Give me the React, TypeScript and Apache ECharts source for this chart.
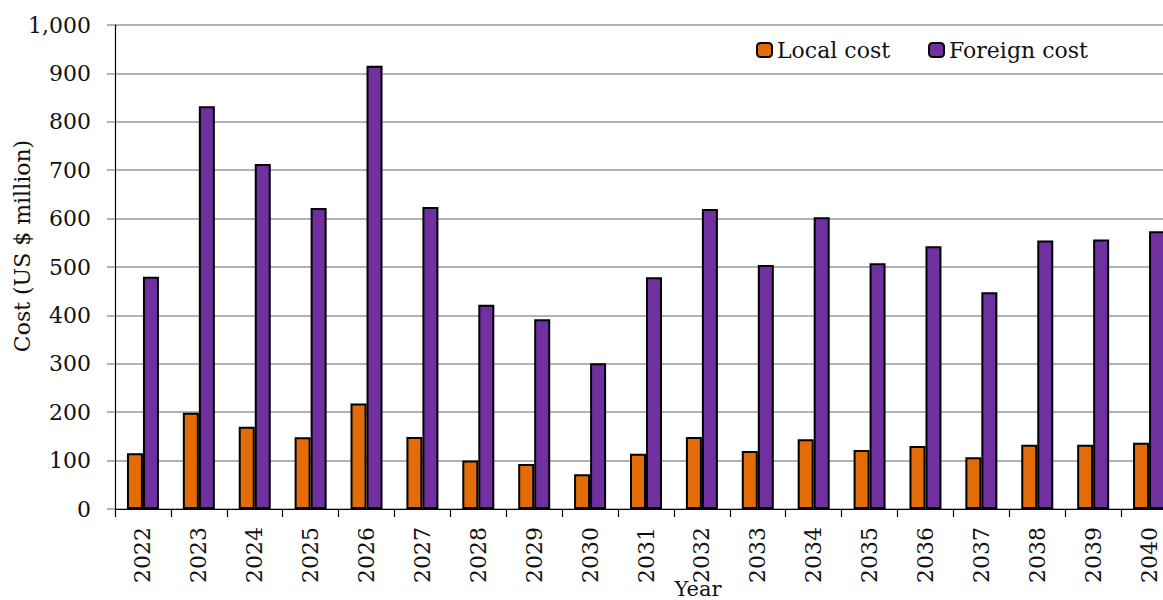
import React, { useEffect, useRef } from "react";
import * as echarts from "echarts";

const years = ["2022","2023","2024","2025","2026","2027","2028","2029","2030","2031","2032","2033","2034","2035","2036","2037","2038","2039","2040"];
const localCost = [115, 199, 170, 148, 218, 149, 100, 93, 72, 114, 149, 120, 144, 122, 130, 107, 133, 133, 137];
const foreignCost = [480, 832, 713, 622, 916, 624, 422, 392, 301, 479, 620, 504, 603, 508, 543, 448, 555, 557, 574];
const yTicks = { min: 0, max: 1000, interval: 100 };

const FONT = "'DejaVu Serif', serif";

export default function App() {
  const ref = useRef<HTMLDivElement>(null);
  useEffect(() => {
    if (!ref.current) return;
    const chart = echarts.init(ref.current, null, { renderer: "svg" });
    chart.setOption({
      animation: false,
      backgroundColor: "#ffffff",
      grid: { left: 115, top: 25, bottom: 91, right: 3 },
      legend: {
        left: 756,
        top: 39,
        padding: 0,
        itemWidth: 15,
        itemHeight: 14,
        itemGap: 38,
        selectedMode: false,
        textStyle: { fontFamily: FONT, fontSize: 22, color: "#111" },
        data: ["Local cost", "Foreign cost"],
      },
      xAxis: {
        type: "category",
        data: years,
        boundaryGap: true,
        axisLine: { lineStyle: { color: "#000", width: 1.2 } },
        axisTick: { show: true, length: 8, lineStyle: { color: "#000", width: 1.2 } },
        axisLabel: { rotate: 90, margin: 18, fontFamily: FONT, fontSize: 22, color: "#111" },
      },
      yAxis: {
        type: "value",
        min: yTicks.min,
        max: yTicks.max,
        interval: yTicks.interval,
        axisLine: { show: true, lineStyle: { color: "#000", width: 1.2 } },
        axisTick: { show: true, length: 8, lineStyle: { color: "#999", width: 1.5 } },
        splitLine: { show: true, lineStyle: { color: "#999", width: 1.5 } },
        axisLabel: {
          margin: 24,
          fontFamily: FONT,
          fontSize: 22,
          color: "#111",
          formatter: (v: number) => v.toLocaleString("en-US"),
        },
      },
      graphic: [
        {
          type: "text",
          x: 22,
          y: 246,
          rotation: Math.PI / 2,
          style: {
            text: "Cost (US $ million)",
            fontFamily: FONT,
            fontSize: 22,
            fill: "#111",
            align: "center",
            verticalAlign: "middle",
          },
        },
        {
          type: "text",
          x: 698,
          y: 599,
          style: {
            text: "Year",
            fontFamily: FONT,
            fontSize: 21,
            fill: "#111",
            align: "center",
            verticalAlign: "bottom",
          },
        },
      ],
      series: [
        {
          name: "Local cost",
          type: "bar",
          data: localCost,
          barWidth: 16,
          barGap: "0%",
          itemStyle: { color: "#E36C09", borderColor: "#000", borderWidth: 2 },
        },
        {
          name: "Foreign cost",
          type: "bar",
          data: foreignCost,
          barWidth: 16,
          barGap: "0%",
          itemStyle: { color: "#7030A0", borderColor: "#000", borderWidth: 2 },
        },
      ],
    });
    return () => chart.dispose();
  }, []);
  return (
    <div style={{ position: "absolute", left: 0, top: 0, width: 1163, height: 600, overflow: "hidden", background: "#fff" }}>
      <div ref={ref} style={{ width: 1180, height: 600 }} />
    </div>
  );
}
